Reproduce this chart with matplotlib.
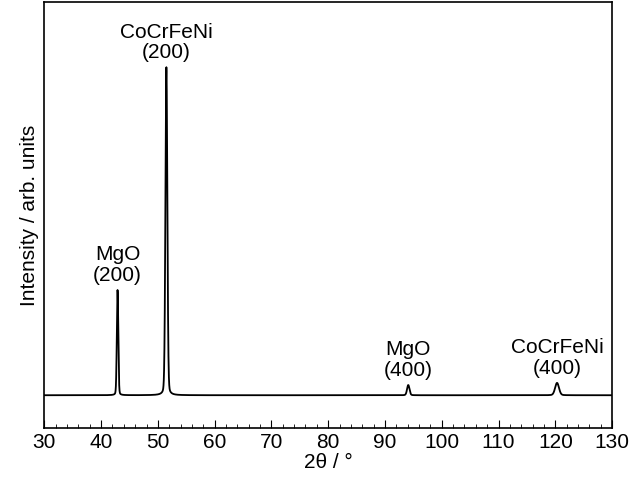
import numpy as np
import matplotlib.pyplot as plt
from matplotlib.ticker import MultipleLocator

# peak list (2theta, height above background, FWHM)
peak_pos = [42.9, 51.5, 94.1, 120.3]
peak_height = [247, 770, 24, 29]
peak_fwhm = [0.3, 0.4, 0.5, 0.8]
background = 77
labels = ["MgO\n(200)", "CoCrFeNi\n(200)", "MgO\n(400)", "CoCrFeNi\n(400)"]

two_theta = np.linspace(30, 130, 8000)
intensity = np.full_like(two_theta, background, dtype=float)
for p, h, w in zip(peak_pos, peak_height, peak_fwhm):
    sigma = w / 2.355
    intensity += h * (0.85 * np.exp(-0.5 * ((two_theta - p) / sigma) ** 2)
                      + 0.15 / (1 + ((two_theta - p) / (w / 2)) ** 2))

plt.rcParams['font.family'] = ['Liberation Sans', 'DejaVu Sans']
fig, ax = plt.subplots(figsize=(6.33, 4.92), dpi=100)
fig.subplots_adjust(left=0.07, right=0.967, top=0.996, bottom=0.13)

ax.plot(two_theta, intensity, color='black', lw=1.3)
ax.set_xlim(30, 130)
ax.set_ylim(0, 1000)
ax.set_yticks([])
ax.xaxis.set_major_locator(MultipleLocator(10))
ax.xaxis.set_minor_locator(MultipleLocator(2))
ax.tick_params(axis='x', direction='in', which='major', length=6, labelsize=15)
ax.tick_params(axis='x', direction='in', which='minor', length=3)
ax.set_xlabel('2θ / °', fontsize=15, labelpad=1)
ax.set_ylabel('Intensity / arb. units', fontsize=15)
for s in ax.spines.values():
    s.set_linewidth(1.2)

for p, h, lab in zip(peak_pos, peak_height, labels):
    ax.text(p, background + h + 12, lab, ha='center', va='bottom', fontsize=15,
            linespacing=1.1)

fig.savefig('out.png', dpi=100)
